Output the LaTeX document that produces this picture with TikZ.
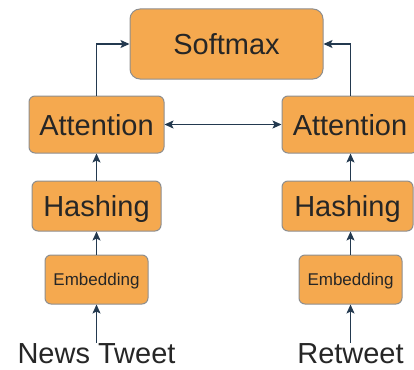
\documentclass[tikz,border=0pt]{standalone}
\usepackage{fontspec}
\setmainfont{Liberation Sans}
\usetikzlibrary{arrows.meta}
\definecolor{boxfill}{HTML}{F5A94F}
\definecolor{boxline}{HTML}{8E8E8E}
\definecolor{arr}{HTML}{23394F}
\definecolor{txt}{HTML}{262626}
\begin{document}
\begin{tikzpicture}[x=1pt,y=-1pt,
  box/.style={draw=boxline, line width=1pt, fill=boxfill, rounded corners=6pt, text=txt, inner sep=0pt},
  big/.style={font=\fontsize{29}{34}\selectfont, text height=21pt, text depth=0pt},
  small/.style={font=\fontsize{17}{20}\selectfont, text height=12pt, text depth=0pt},
  tip/.style={Stealth[length=9pt,width=8pt,inset=2pt]},
  conn/.style={draw=arr, line width=1.3pt, -{Stealth[length=9pt,width=8pt,inset=2pt]}},
  dconn/.style={draw=arr, line width=1.3pt, {Stealth[length=9pt,width=8pt,inset=2pt]}-{Stealth[length=9pt,width=8pt,inset=2pt]}}]
\useasboundingbox (0,0) rectangle (414,369);
\node[box,big,minimum width=193pt,minimum height=70pt,rounded corners=10pt] (soft) at (226.5,44) {Softmax};
\node[box,big,minimum width=135pt,minimum height=57pt] (att1) at (96.5,124.5) {Attention};
\node[box,big,minimum width=136pt,minimum height=57pt] (att2) at (350,124.5) {Attention};
\node[box,big,minimum width=129pt,minimum height=50pt] (hash1) at (96.5,206) {Hashing};
\node[box,big,minimum width=131pt,minimum height=50pt] (hash2) at (347.5,206) {Hashing};
\node[box,small,minimum width=103pt,minimum height=49pt] (emb1) at (96.5,279.5) {Embedding};
\node[box,small,minimum width=103pt,minimum height=49pt] (emb2) at (350.5,279.5) {Embedding};
\node[big,text=txt,anchor=north,inner sep=0pt] (news) at (96.5,342.5) {News Tweet};
\node[big,text=txt,anchor=north,inner sep=0pt] (rt) at (350.5,342.5) {Retweet};
\draw[conn] (news.north) -- (emb1.south);
\draw[conn] (rt.north) -- (emb2.south);
\draw[conn] (emb1.north) -- (hash1.south);
\draw[conn] (emb2.north) -- (emb2.north |- hash2.south);
\draw[conn] (hash1.north) -- (att1.south);
\draw[conn] (emb2.north |- hash2.north) -- (emb2.north |- att2.south);
\draw[conn] (att1.north) |- (soft.west);
\draw[conn] (emb2.north |- att2.north) |- (soft.east);
\draw[dconn] (att1.east) -- (att2.west);
\end{tikzpicture}
\end{document}
